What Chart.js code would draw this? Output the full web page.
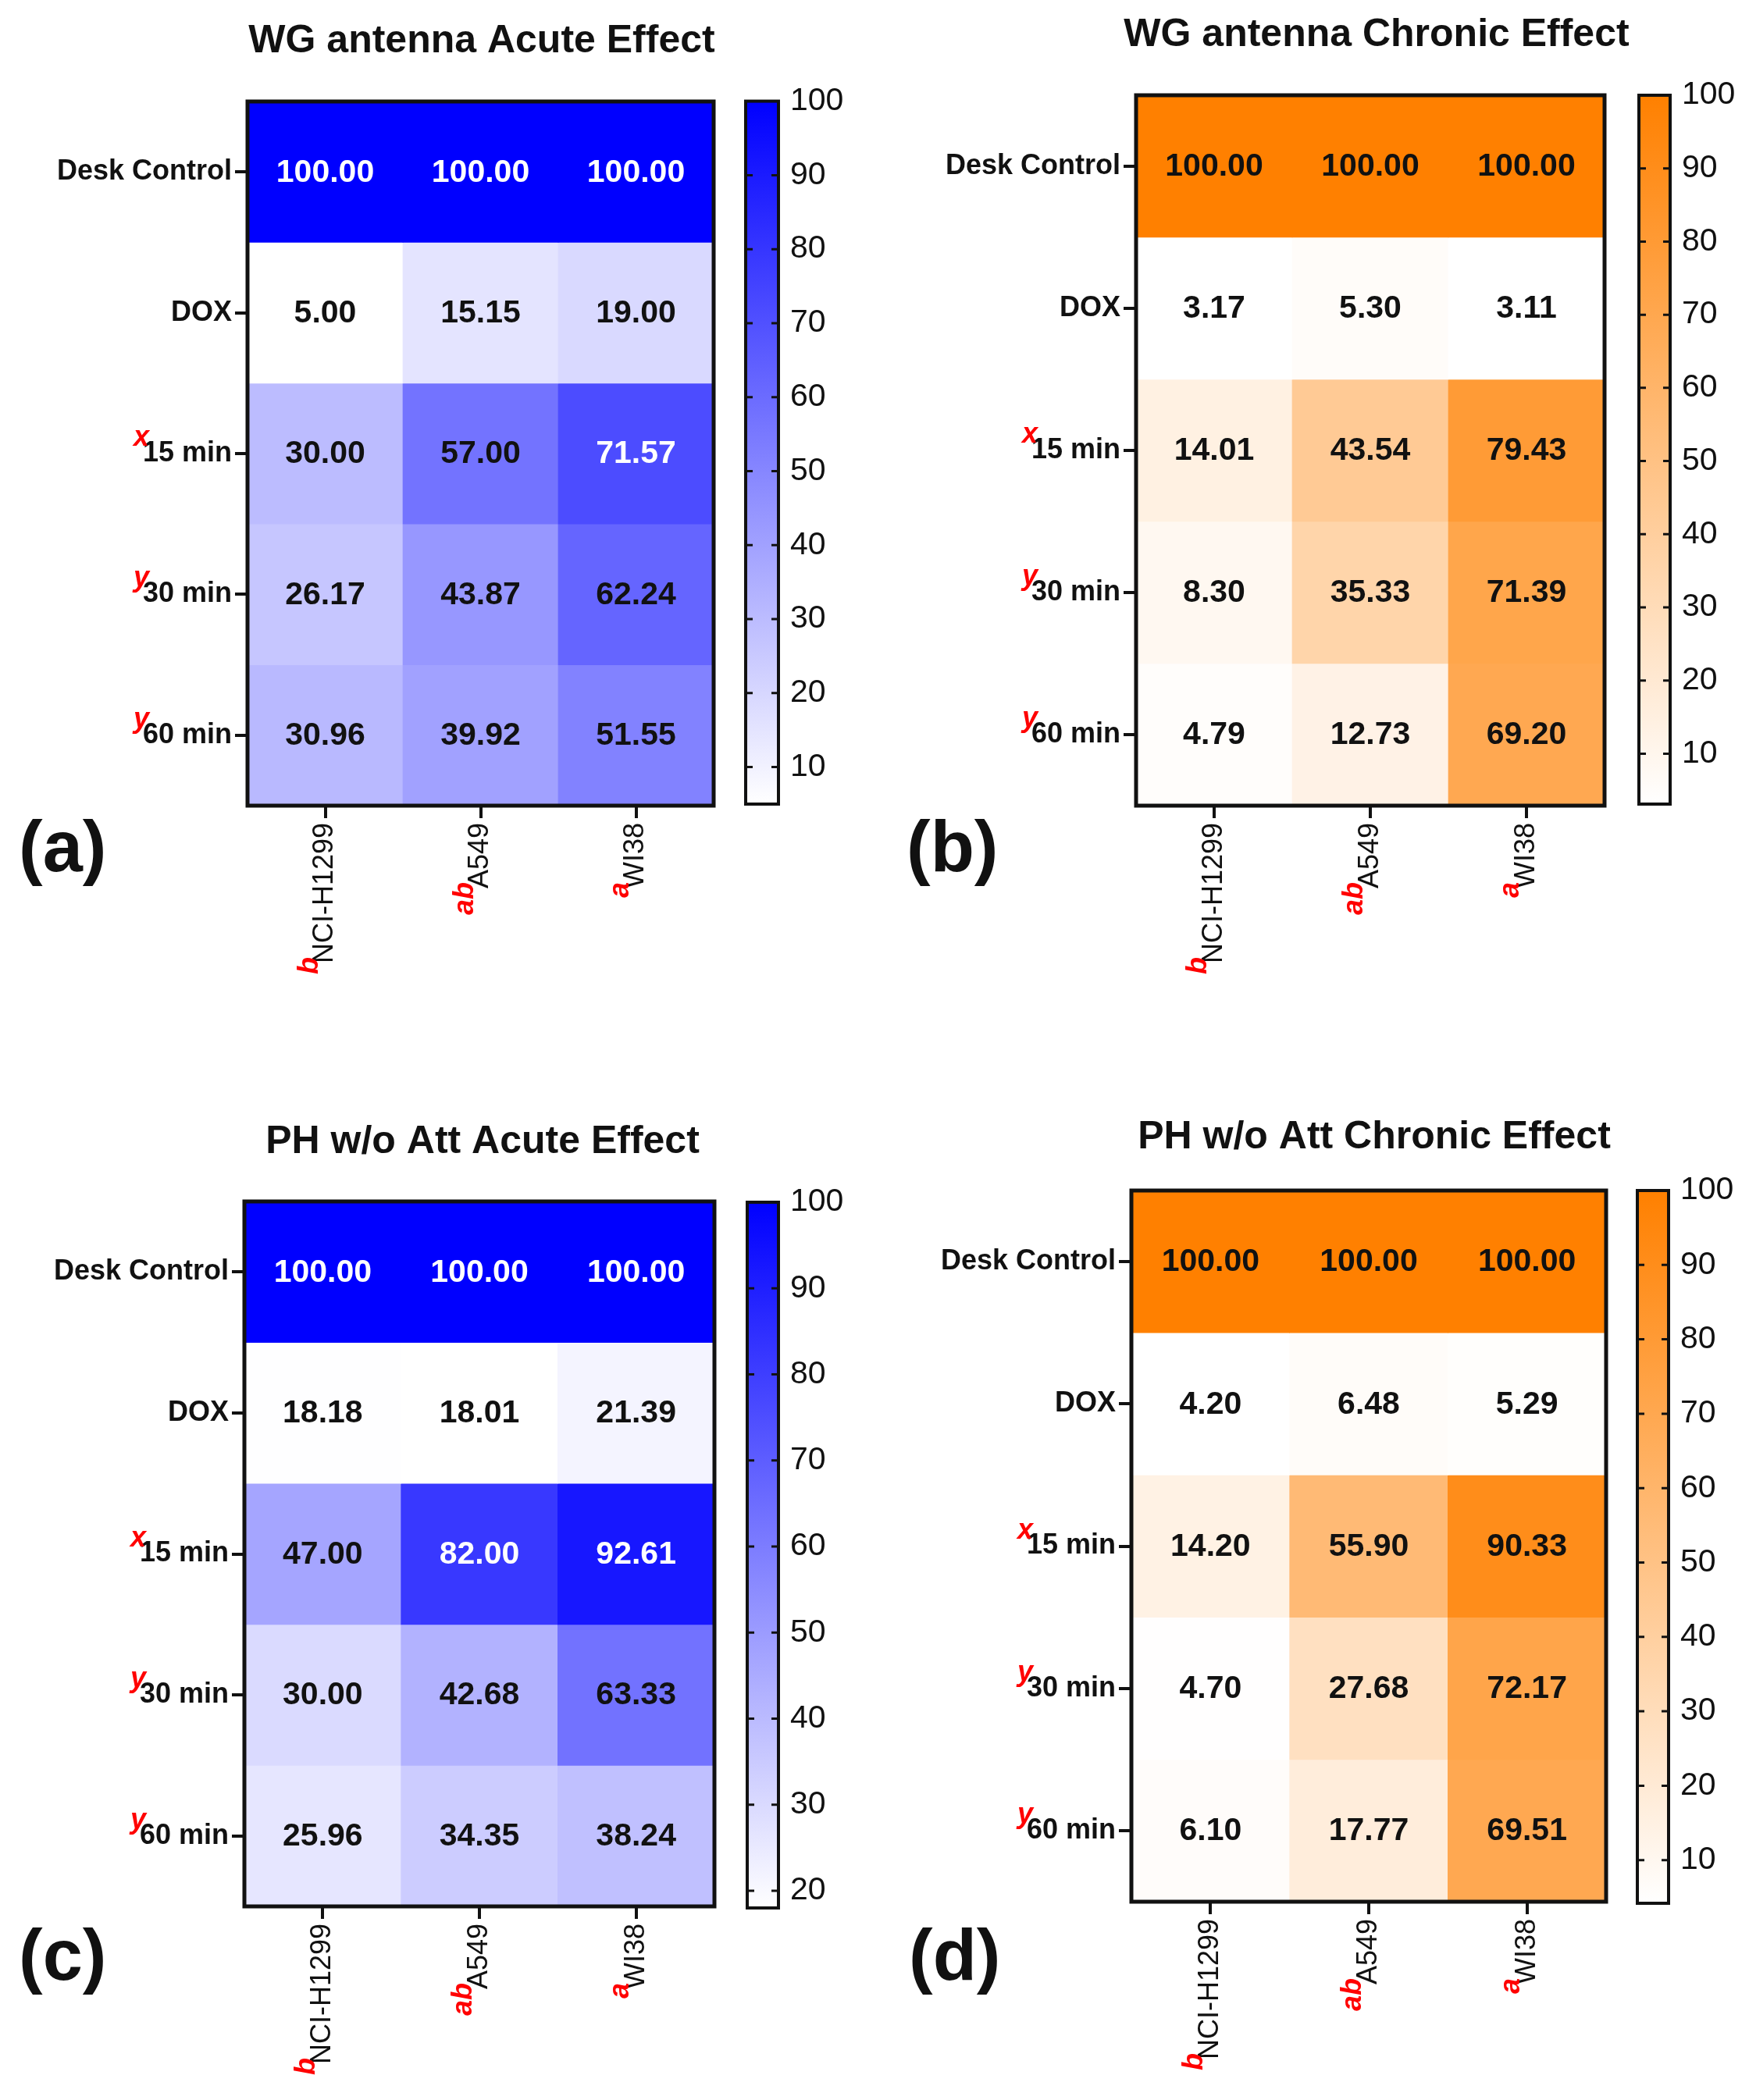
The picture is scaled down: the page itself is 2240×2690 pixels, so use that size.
<!DOCTYPE html>
<html>
<head>
<meta charset="utf-8">
<title>WG antenna / PH w/o Att heatmaps</title>
<script src="https://cdn.jsdelivr.net/npm/chart.js@4.4.1/dist/chart.umd.min.js"></script>
<style>
  html, body { margin: 0; padding: 0; background: #fff; }
  #page { position: relative; width: 2240px; height: 2690px; overflow: hidden; background: #fff; }
  canvas { position: absolute; }
</style>
</head>
<body>
<div id="page"></div>
<script>
// rows / columns of every heatmap
const rowNames = ['Desk Control', 'DOX', '15 min', '30 min', '60 min'];
const rowMarks = ['', '', 'x', 'y', 'y'];
const cellLines = ['NCI-H1299', 'A549', 'WI38'];
const lineMarks = ['b', 'ab', 'a'];

// values, one row per treatment, columns = cell lines
const wgAcute = [
  [100, 100, 100],
  [5.00, 15.15, 19.00],
  [30.00, 57.00, 71.57],
  [26.17, 43.87, 62.24],
  [30.96, 39.92, 51.55]
];
const wgChronic = [
  [100, 100, 100],
  [3.17, 5.30, 3.11],
  [14.01, 43.54, 79.43],
  [8.30, 35.33, 71.39],
  [4.79, 12.73, 69.20]
];
const phAcute = [
  [100, 100, 100],
  [18.18, 18.01, 21.39],
  [47.00, 82.00, 92.61],
  [30.00, 42.68, 63.33],
  [25.96, 34.35, 38.24]
];
const phChronic = [
  [100, 100, 100],
  [4.20, 6.48, 5.29],
  [14.20, 55.90, 90.33],
  [4.70, 27.68, 72.17],
  [6.10, 17.77, 69.51]
];

// colour bar tick labels
const barTicks10 = [10, 20, 30, 40, 50, 60, 70, 80, 90, 100];
const barTicks20 = [20, 30, 40, 50, 60, 70, 80, 90, 100];

const FONT = '"Liberation Sans", Arial, Helvetica, sans-serif';
const INK = '#111';
const BLUE = [0, 0, 255];
const ORANGE = [255, 128, 0];

Chart.defaults.font.family = FONT;
Chart.defaults.color = INK;

function shade(rgb, t) {
  const c = rgb.map(k => Math.round(255 + (k - 255) * t));
  return 'rgb(' + c.join(',') + ')';
}

function addCanvas(box) {
  const cv = document.createElement('canvas');
  cv.width = box.width;
  cv.height = box.height;
  cv.style.left = box.left + 'px';
  cv.style.top = box.top + 'px';
  cv.style.width = box.width + 'px';
  cv.style.height = box.height + 'px';
  document.getElementById('page').appendChild(cv);
  return cv;
}

// red significance letters in front of the tick labels
function drawMarks(ctx, scale, marks) {
  scale.getLabelItems().forEach((it, i) => {
    const m = marks[i];
    if (!m) return;
    const o = it.options;
    ctx.save();
    ctx.translate(o.translation[0], o.translation[1]);
    ctx.rotate(o.rotation);
    ctx.font = it.font.string;
    const w = ctx.measureText(it.label).width;
    const start = o.textAlign === 'right' ? -w : (o.textAlign === 'center' ? -w / 2 : 0);
    let mid = it.textOffset;
    if (o.textBaseline === 'top') mid += it.font.size / 2;
    if (o.textBaseline === 'bottom') mid -= it.font.size / 2;
    ctx.font = 'italic bold 36px ' + FONT;
    ctx.fillStyle = '#f00';
    ctx.textAlign = 'right';
    ctx.textBaseline = 'alphabetic';
    ctx.fillText(m, start + 8, mid - 10);
    ctx.restore();
  });
}

function heatPanel(p) {
  const flat = p.values.flat();
  const lo = Math.min(...flat), hi = Math.max(...flat);
  const frac = v => (v - lo) / (hi - lo);
  const tickGrid = {
    display: true, drawOnChartArea: false, drawTicks: true,
    tickLength: 16, color: INK, lineWidth: 4, offset: false
  };

  new Chart(addCanvas(p.box), {
    type: 'bar',
    data: {
      labels: cellLines,
      datasets: rowNames.map((name, r) => ({
        label: name,
        data: cellLines.map(() => 1),
        raw: p.values[r],
        backgroundColor: p.values[r].map(v => shade(p.rgb, frac(v))),
        borderWidth: 0,
        barPercentage: 1,
        categoryPercentage: 1
      }))
    },
    options: {
      responsive: false,
      animation: false,
      events: [],
      layout: { padding: { left: 0, top: p.area.top, right: p.box.width - p.area.right, bottom: 0 } },
      plugins: { legend: { display: false }, tooltip: { enabled: false } },
      scales: {
        x: {
          type: 'category',
          stacked: true,
          grid: tickGrid,
          border: { display: false },
          ticks: { font: { size: 36 }, color: INK, minRotation: 90, maxRotation: 90, padding: 6, autoSkip: false },
          afterFit: s => { s.height = p.box.height - p.area.bottom; }
        },
        y: {
          type: 'linear',
          stacked: true,
          min: 0,
          max: rowNames.length,
          reverse: true,
          afterBuildTicks: s => { s.ticks = rowNames.map((_, i) => ({ value: i + 0.5 })); },
          grid: tickGrid,
          border: { display: false },
          ticks: { callback: (v, i) => rowNames[i], font: { size: 36, weight: 'bold' }, color: INK, padding: 4 },
          afterFit: s => { s.width = p.area.left; }
        }
      }
    },
    plugins: [{
      id: 'cells',
      afterDatasetsDraw(chart) {
        const ctx = chart.ctx;
        ctx.save();
        ctx.font = 'bold 41px ' + FONT;
        ctx.textAlign = 'center';
        ctx.textBaseline = 'middle';
        chart.data.datasets.forEach((ds, r) => {
          chart.getDatasetMeta(r).data.forEach((bar, c) => {
            const v = ds.raw[c];
            ctx.fillStyle = frac(v) > p.whiteAbove ? '#fff' : INK;
            ctx.fillText(v.toFixed(2), bar.x, (bar.y + bar.base) / 2 + 1);
          });
        });
        const a = chart.chartArea;
        ctx.lineWidth = 5;
        ctx.strokeStyle = INK;
        ctx.strokeRect(a.left, a.top, a.right - a.left, a.bottom - a.top);
        ctx.restore();
      },
      afterDraw(chart) {
        const ctx = chart.ctx;
        drawMarks(ctx, chart.scales.y, rowMarks);
        drawMarks(ctx, chart.scales.x, lineMarks);
        ctx.save();
        ctx.fillStyle = INK;
        ctx.textBaseline = 'middle';
        ctx.textAlign = 'center';
        ctx.font = 'bold 50px ' + FONT;
        ctx.fillText(p.title, p.titleAt[0], p.titleAt[1]);
        ctx.textAlign = 'left';
        ctx.font = 'bold 92px ' + FONT;
        ctx.fillText(p.letter, p.letterAt[0], p.letterAt[1]);
        ctx.restore();
      }
    }]
  });
}

function colourBar(p) {
  const flat = p.values.flat();
  const lo = Math.min(...flat), hi = Math.max(...flat);

  new Chart(addCanvas(p.box), {
    type: 'bar',
    data: {
      labels: [''],
      datasets: [{
        data: [[lo, hi]],
        backgroundColor: c => {
          const a = c.chart.chartArea;
          if (!a) return 'rgba(0,0,0,0)';
          const g = c.chart.ctx.createLinearGradient(0, a.bottom, 0, a.top);
          g.addColorStop(0, shade(p.rgb, 0));
          g.addColorStop(1, shade(p.rgb, 1));
          return g;
        },
        borderWidth: 0,
        barPercentage: 1,
        categoryPercentage: 1
      }]
    },
    options: {
      responsive: false,
      animation: false,
      events: [],
      layout: { padding: { left: p.area.left, top: p.area.top, right: 0, bottom: p.box.height - p.area.bottom } },
      plugins: { legend: { display: false }, tooltip: { enabled: false } },
      scales: {
        x: { display: false },
        y: {
          position: 'right',
          min: lo,
          max: hi,
          afterBuildTicks: s => { s.ticks = p.ticks.map(v => ({ value: v })); },
          grid: { display: false, drawTicks: false },
          border: { display: false },
          ticks: { font: { size: 41 }, color: INK, padding: 15 },
          afterFit: s => { s.width = p.box.width - p.area.right; }
        }
      }
    },
    plugins: [{
      id: 'barFrame',
      afterDraw(chart) {
        const ctx = chart.ctx, a = chart.chartArea, y = chart.scales.y;
        ctx.save();
        ctx.strokeStyle = INK;
        ctx.lineWidth = 3;
        p.ticks.forEach(v => {
          const py = y.getPixelForValue(v);
          if (py < a.top + 4 || py > a.bottom - 4) return;
          ctx.beginPath();
          ctx.moveTo(a.left, py); ctx.lineTo(a.left + 9, py);
          ctx.moveTo(a.right - 9, py); ctx.lineTo(a.right, py);
          ctx.stroke();
        });
        ctx.lineWidth = 4;
        ctx.strokeRect(a.left, a.top, a.right - a.left, a.bottom - a.top);
        ctx.restore();
      }
    }]
  });
}

heatPanel({
  title: 'WG antenna Acute Effect', letter: '(a)', values: wgAcute, rgb: BLUE, whiteAbove: 0.65,
  box: { left: 0, top: 0, width: 1120, height: 1345 },
  area: { left: 317, top: 130, right: 914, bottom: 1032 },
  titleAt: [617, 53], letterAt: [24, 1091]
});
heatPanel({
  title: 'WG antenna Chronic Effect', letter: '(b)', values: wgChronic, rgb: ORANGE, whiteAbove: 2,
  box: { left: 1120, top: 0, width: 1120, height: 1345 },
  area: { left: 335, top: 122, right: 935, bottom: 1032 },
  titleAt: [643, 45], letterAt: [41, 1091]
});
heatPanel({
  title: 'PH w/o Att Acute Effect', letter: '(c)', values: phAcute, rgb: BLUE, whiteAbove: 0.65,
  box: { left: 0, top: 1345, width: 1120, height: 1345 },
  area: { left: 313, top: 194, right: 915, bottom: 1097 },
  titleAt: [618, 118], letterAt: [24, 1166]
});
heatPanel({
  title: 'PH w/o Att Chronic Effect', letter: '(d)', values: phChronic, rgb: ORANGE, whiteAbove: 2,
  box: { left: 1120, top: 1345, width: 1120, height: 1345 },
  area: { left: 329, top: 180, right: 937, bottom: 1091 },
  titleAt: [640, 112], letterAt: [44, 1166]
});

colourBar({ values: wgAcute, rgb: BLUE, ticks: barTicks10,
  box: { left: 905, top: 90, width: 250, height: 980 }, area: { left: 50, top: 39, right: 92, bottom: 940 } });
colourBar({ values: wgChronic, rgb: ORANGE, ticks: barTicks10,
  box: { left: 2049, top: 80, width: 191, height: 1000 }, area: { left: 50, top: 42, right: 90, bottom: 950 } });
colourBar({ values: phAcute, rgb: BLUE, ticks: barTicks20,
  box: { left: 907, top: 1500, width: 250, height: 990 }, area: { left: 50, top: 40, right: 90, bottom: 944 } });
colourBar({ values: phChronic, rgb: ORANGE, ticks: barTicks10,
  box: { left: 2047, top: 1485, width: 193, height: 1000 }, area: { left: 50, top: 40, right: 90, bottom: 953 } });
</script>
</body>
</html>
